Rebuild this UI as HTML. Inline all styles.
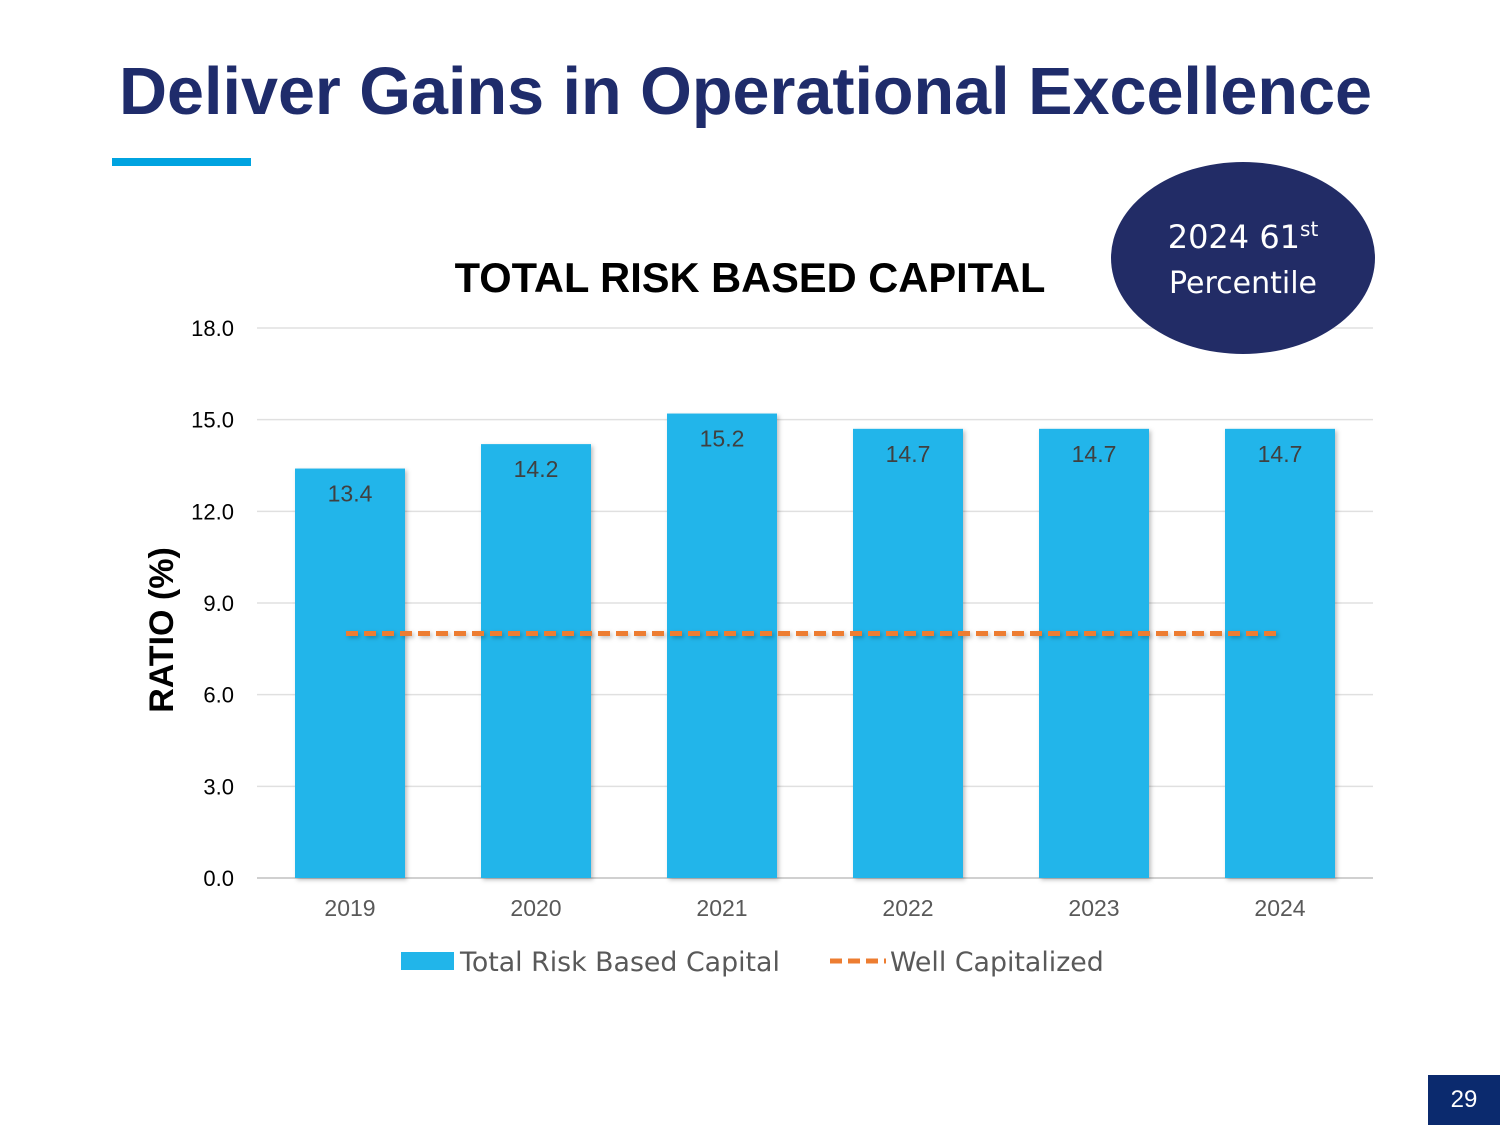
<!DOCTYPE html>
<html><head><meta charset="utf-8"><style>
body{margin:0;width:1500px;height:1125px;background:#fff;overflow:hidden;font-family:"Liberation Sans",sans-serif;position:relative}
</style></head><body>
<div style="position:absolute;left:119px;top:54px;font-size:66.5px;font-weight:bold;color:#1f2c6b;white-space:nowrap">Deliver Gains in Operational Excellence</div>
<div style="position:absolute;left:112px;top:158px;width:139px;height:8px;background:#00a3e0"></div>
<svg width="1500" height="1125" style="position:absolute;left:0;top:0">
<defs><filter id="sh" filterUnits="userSpaceOnUse" x="0" y="0" width="1500" height="1125"><feDropShadow dx="2" dy="2" stdDeviation="2" flood-opacity="0.25"/></filter></defs>
<text x="750" y="292" text-anchor="middle" font-size="41.6" font-weight="bold" fill="#000">TOTAL RISK BASED CAPITAL</text>
<g id="grid"></g><g id="bars"></g><g id="line"></g>
<text transform="translate(173,630) rotate(-90)" text-anchor="middle" font-size="34" font-weight="bold" fill="#000">RATIO (%)</text>
<ellipse cx="1243" cy="258" rx="132" ry="96" fill="#222c66"/>
<text x="1243" y="248" text-anchor="middle" font-size="32" fill="#fff" font-family="DejaVu Sans, sans-serif">2024 61<tspan font-size="20" dy="-12">st</tspan></text>
<text x="1243" y="293" text-anchor="middle" font-size="30" fill="#fff" font-family="DejaVu Sans, sans-serif">Percentile</text>
<rect x="401" y="952" width="53" height="18" fill="#21b5ea"/>
<text x="460" y="971" font-size="26.8" fill="#595959" font-family="DejaVu Sans, sans-serif">Total Risk Based Capital</text>
<line x1="830" y1="961" x2="886" y2="961" stroke="#ed7d31" stroke-width="5" stroke-dasharray="12,6"/>
<text x="890" y="971" font-size="26.8" fill="#595959" font-family="DejaVu Sans, sans-serif">Well Capitalized</text>
</svg>
<div style="position:absolute;left:1428px;top:1075px;width:72px;height:50px;background:#0b2a6e;color:#fff;font-size:24px;line-height:50px;text-align:center">29</div>
<script>
const categories=["2019","2020","2021","2022","2023","2024"];
const values=[13.4,14.2,15.2,14.7,14.7,14.7];
const labels=["13.4","14.2","15.2","14.7","14.7","14.7"];
const wellCap=[8,8,8,8,8,8];
const ticks=[0,3,6,9,12,15,18];
const ns="http://www.w3.org/2000/svg";
const x0=257,x1=1373,yTop=328,yBot=878,ymax=18;
const band=(x1-x0)/categories.length;
const y=v=>yBot-(v/ymax)*(yBot-yTop);
const xc=i=>x0+band*(i+0.5);
function mk(t,a,p){const e=document.createElementNS(ns,t);for(const k in a)e.setAttribute(k,a[k]);p.appendChild(e);return e;}
const g=document.getElementById('grid');
ticks.forEach(t=>{
 const l=mk('line',{x1:x0,x2:x1,y1:y(t),y2:y(t),stroke:t===0?'#d0d0d0':'#e0e0e0','stroke-width':t===0?2:1.5},g);
 
 
 const tx=mk('text',{x:234,y:y(t)+8,'text-anchor':'end','font-size':22,fill:'#000'},g);
 tx.textContent=t.toFixed(1);
 
 
});
const b=document.getElementById('bars');
categories.forEach((c,i)=>{
 const r=mk('rect',{x:xc(i)-55,y:y(values[i]),width:110,height:yBot-y(values[i]),fill:'#21b5ea',filter:'url(#sh)'},b);
 
 
 const lv=mk('text',{x:xc(i),y:y(values[i])+33,'text-anchor':'middle','font-size':23,fill:'#404040'},b);
 lv.textContent=labels[i];
 
 
 const cx=mk('text',{x:xc(i),y:916,'text-anchor':'middle','font-size':23,fill:'#595959'},b);
 cx.textContent=c;
 
 
});
const lg=document.getElementById('line');
const pts=wellCap.map((v,i)=>(xc(i)-4)+','+y(v)).join(' ');
const pl=mk('polyline',{points:pts,fill:'none',stroke:'#ed7d31','stroke-width':5,'stroke-dasharray':'12,6',filter:'url(#sh)'},lg);


</script>
</body></html>
